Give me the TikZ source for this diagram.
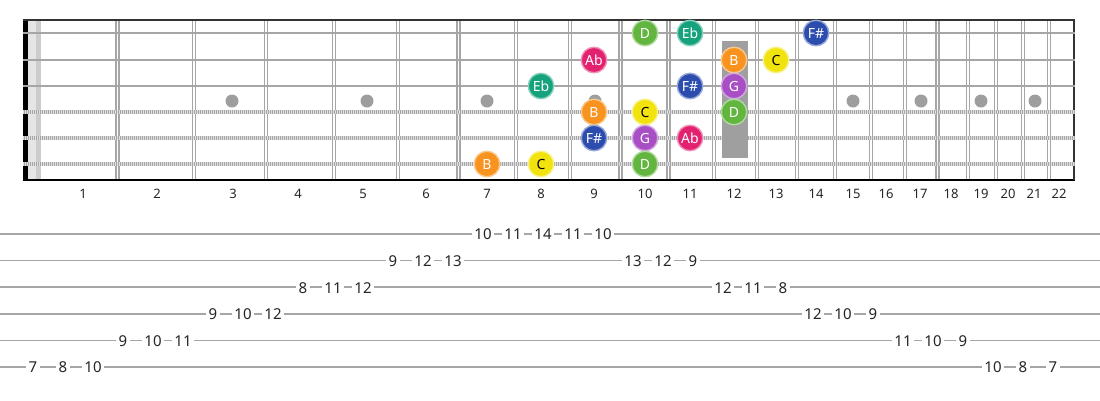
\documentclass[tikz,border=0pt]{standalone}
\usepackage{fontspec}
\setmainfont{Noto Sans}
\definecolor{cD}{HTML}{62B53E}
\definecolor{cEb}{HTML}{15A27C}
\definecolor{cAb}{HTML}{E2226E}
\definecolor{cB}{HTML}{F7931E}
\definecolor{cC}{HTML}{F2E30E}
\definecolor{cG}{HTML}{A84FC6}
\definecolor{cFs}{HTML}{2C4DAE}
\definecolor{lineg}{HTML}{A6A6A6}
\definecolor{dotg}{HTML}{9E9E9E}
\begin{document}
\begin{tikzpicture}[x=1pt,y=-1pt,
  note/.style={circle,minimum size=25.5pt,inner sep=0pt,line width=1.4pt,
    font=\fontsize{14}{14}\selectfont,text=white},
  nD/.style={note,fill=cD,draw=cD!50!white},
  nEb/.style={note,fill=cEb,draw=cEb!50!white},
  nAb/.style={note,fill=cAb,draw=cAb!50!white},
  nB/.style={note,fill=cB,draw=cB!50!white},
  nC/.style={note,fill=cC,draw=cC!50!white,text=black},
  nG/.style={note,fill=cG,draw=cG!50!white},
  nFs/.style={note,fill=cFs,draw=cFs!50!white},
  fretlbl/.style={font=\fontsize{13}{13}\selectfont,text=black!85,inner sep=0pt},
  tabnum/.style={font=\fontsize{15}{15}\selectfont,text=black!85,fill=white,inner xsep=2.5pt,inner ysep=2pt},
  inlay/.style={circle,fill=dotg,minimum size=13pt,inner sep=0pt},
  plainstr/.style={line width=2.4pt,draw=lineg},
  woundstr/.style={line width=4pt,draw=gray!70},
  woundtex/.style={line width=4pt,draw=gray!25,dash pattern=on 1pt off 1pt},
  tabline/.style={line width=1.5pt,draw=lineg}
]
\useasboundingbox (0,0) rectangle (1100,400);
% nut band
\fill[gray!20] (28,20) rectangle (36,180);
\fill[gray!40] (36,20) rectangle (41,180);
% frets
\foreach \k in {1,...,21}{
  \pgfmathsetmacro\fx{37+1440*(1-pow(2,-\k/12))}
  \draw[line width=4.2pt,draw=lineg] (\fx,20) -- (\fx,180);
  \draw[line width=1.8pt,draw=white] (\fx,20) -- (\fx,180);
}
% inlays
\foreach \x [count=\i] in {232,367,487,595,853,921,981,1035}
  \node[inlay] (dot\i) at (\x,101) {};
% nut
\fill[black] (23,20) rectangle (28,180);
% borders
\draw[line width=2pt,draw=black!80] (23,20) -- (1075,20);
\draw[line width=2pt,draw=black] (23,180) -- (1075,180);
\draw[line width=2pt,draw=black!80] (1074,20) -- (1074,180);
% strings
\foreach \y in {33,60,86}
  \draw[plainstr] (23,\y) -- (1075,\y);
\foreach \y in {112,138,164}{
  \draw[woundstr] (23,\y) -- (1075,\y);
  \draw[woundtex] (23,\y) -- (1075,\y);
}
% 12th fret marker
\fill[gray!75] (722,41) rectangle (748,158);
% notes
\node[nD]  (s1f10) at (645,33) {D};
\node[nEb] (s1f11) at (690,33) {Eb};
\node[nFs] (s1f14) at (816,33) {F\#};
\node[nAb] (s2f9)  at (594,60) {Ab};
\node[nB]  (s2f12) at (734,60) {B};
\node[nC]  (s2f13) at (776,60) {C};
\node[nEb] (s3f8)  at (541,86) {Eb};
\node[nFs] (s3f11) at (690,86) {F\#};
\node[nG]  (s3f12) at (734,86) {G};
\node[nB]  (s4f9)  at (594,112) {B};
\node[nC]  (s4f10) at (645,112) {C};
\node[nD]  (s4f12) at (734,112) {D};
\node[nFs] (s5f9)  at (594,138) {F\#};
\node[nG]  (s5f10) at (645,138) {G};
\node[nAb] (s5f11) at (690,138) {Ab};
\node[nB]  (s6f7)  at (487,164) {B};
\node[nC]  (s6f8)  at (541,164) {C};
\node[nD]  (s6f10) at (645,164) {D};
% fret numbers
\foreach \x [count=\i] in {83,157,233,298,363,426,487,541,594,645,690,734,776,816,853,886,920,951,981,1008,1034,1059}
  \node[fretlbl] (fl\i) at (\x,194) {\i};
% tab lines
\foreach \s in {1,...,6}
  \draw[tabline] (0,{234+26.6*(\s-1)}) -- (1100,{234+26.6*(\s-1)});
% tab numbers
\foreach \s/\n [count=\i from 0] in {6/7,6/8,6/10,5/9,5/10,5/11,4/9,4/10,4/12,3/8,3/11,3/12,2/9,2/12,2/13,1/10,1/11,1/14,1/11,1/10,2/13,2/12,2/9,3/12,3/11,3/8,4/12,4/10,4/9,5/11,5/10,5/9,6/10,6/8,6/7}
  \node[tabnum] (t\i) at ({33+30*\i},{234.5+26.6*(\s-1)}) {\n};
\end{tikzpicture}
\end{document}
